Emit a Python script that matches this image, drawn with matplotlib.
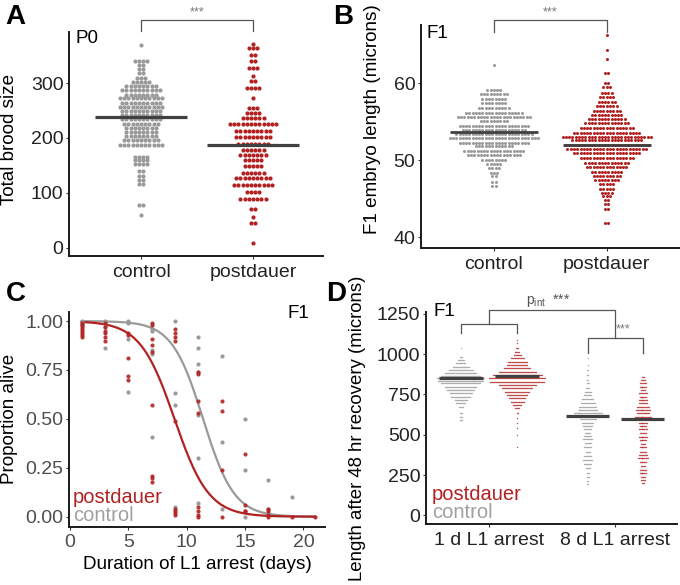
import numpy as np
import matplotlib.pyplot as plt
from matplotlib.lines import Line2D

plt.rcParams['font.family'] = ['Liberation Sans', 'DejaVu Sans']

GREY = '#9a9a9a'
RED = '#b22222'
MEANC = '#404040'
AXC = '#1a1a1a'

groups = ['control', 'postdauer']

# ---------------------------------------------------
# Data
# ---------------------------------------------------
# A: total brood size P0, dot rows -> (row value, dots in row)
a_ctrl_val = [370, 340, 333, 325, 318, 310, 302, 295, 287, 279, 272, 264, 257, 249, 242,
              234, 226, 219, 211, 203, 196, 188, 166, 159, 152, 139, 131, 124, 116, 78, 59]
a_ctrl_n = [1, 4, 2, 2, 2, 3, 5, 8, 10, 8, 11, 10, 11, 10, 10,
            10, 9, 8, 8, 8, 9, 11, 4, 4, 4, 2, 2, 2, 2, 2, 1]
a_pd_val = [372, 363, 351, 340, 327, 313, 304, 291, 272, 254, 245, 236, 225, 213, 201,
            189, 178, 169, 159, 149, 136, 127, 115, 101, 89, 70, 56, 45, 9]
a_pd_n = [1, 3, 2, 2, 3, 1, 2, 4, 1, 3, 4, 6, 12, 9, 9,
          8, 6, 7, 5, 5, 6, 9, 10, 4, 7, 2, 1, 2, 1]
a_mean = [238, 188]

# B: F1 embryo length
b_ctrl_val = [62.4, 59.2, 58.6, 58.0, 57.4, 56.8, 56.2, 55.6, 55.1, 54.5, 53.9, 53.4,
              52.9, 52.3, 51.8, 51.2, 50.7, 50.1, 49.5, 49.0, 48.4, 47.9, 47.2, 46.7]
b_ctrl_n = [1, 5, 9, 8, 8, 10, 18, 23, 9, 22, 20, 24,
            28, 22, 12, 19, 17, 8, 5, 4, 3, 2, 2, 2]
b_pd_val = [66.3, 64.4, 63.2, 61.3, 60.0, 59.5, 58.8, 58.2, 57.6, 57.1, 56.4, 55.9,
            55.4, 54.8, 54.2, 53.6, 53.1, 52.6, 52.0, 51.5, 50.9, 50.3, 49.7, 49.1,
            48.5, 47.9, 47.4, 46.9, 46.3, 45.8, 45.3, 44.8, 44.3, 43.7, 41.8]
b_pd_n = [1, 1, 1, 2, 2, 3, 4, 5, 6, 7, 9, 10,
          12, 14, 17, 21, 28, 22, 26, 25, 21, 17, 14, 13,
          10, 9, 8, 5, 5, 4, 3, 2, 2, 2, 2]
b_mean = [53.7, 52.0]

# C: proportion alive vs. days of L1 arrest
c_ctrl_day = [1, 1, 1, 3, 3, 3, 3, 5, 5, 5, 5, 7, 7, 7, 7, 7, 9, 9, 9, 9,
              11, 11, 11, 11, 11, 11, 11, 13, 13, 13, 15, 15, 15, 17, 17, 17, 19]
c_ctrl_prop = [1.0, 0.99, 0.98, 1.0, 0.99, 0.97, 0.86, 1.0, 0.99, 0.91, 0.64,
               0.96, 0.95, 0.85, 0.83, 0.41, 1.0, 0.63, 0.57, 0.05,
               0.92, 0.86, 0.78, 0.74, 0.52, 0.30, 0.07, 0.82, 0.38, 0.04,
               0.50, 0.24, 0.0, 0.19, 0.04, 0.02, 0.10]
c_pd_day = [1, 1, 1, 1, 1, 1, 1, 1, 3, 3, 3, 3, 3, 3, 5, 5, 5, 5, 5,
            7, 7, 7, 7, 7, 7, 7, 7, 7, 9, 9, 9, 9, 9, 9, 9, 9, 9,
            11, 11, 11, 11, 11, 11, 11, 11, 13, 13, 13, 13, 15, 15, 15, 15,
            17, 17, 17, 17, 19, 21]
c_pd_prop = [0.99, 0.98, 0.97, 0.96, 0.95, 0.94, 0.93, 0.92,
             0.99, 0.97, 0.95, 0.94, 0.92, 0.90,
             0.94, 0.93, 0.81, 0.72, 0.70,
             0.99, 0.98, 0.91, 0.88, 0.84, 0.57, 0.21, 0.20, 0.18,
             0.96, 0.94, 0.92, 0.90, 0.49, 0.04, 0.03, 0.02, 0.01,
             0.74, 0.73, 0.59, 0.53, 0.05, 0.03, 0.01, 0.0,
             0.59, 0.54, 0.24, 0.0, 0.32, 0.06, 0.03, 0.03,
             0.04, 0.03, 0.01, 0.0, 0.0, 0.0]
# fitted logistic curves: (day at 50 % alive, slope)
c_fit_ctrl = (11.4, 0.75)
c_fit_pd = (8.95, 0.68)

# D: length after 48 h recovery, rows -> (value, dots in row)
d1_ctrl_val = [1041, 985, 964, 944, 923, 902, 882, 867, 851, 834, 820, 799, 778, 758,
               737, 716, 696, 674, 633, 612, 592]
d1_ctrl_n = [1, 3, 7, 10, 17, 25, 33, 40, 48, 47, 40, 33, 28, 23, 20, 13, 10, 5, 3, 3, 3]
d1_pd_val = [1089, 1068, 1037, 1016, 995, 975, 954, 933, 913, 892, 871, 851, 830, 809,
             789, 768, 747, 727, 705, 685, 664, 633, 602, 571, 540, 499, 426]
d1_pd_n = [1, 1, 3, 5, 8, 14, 20, 21, 27, 38, 50, 57, 55, 38,
           31, 25, 21, 17, 14, 9, 5, 2, 1, 1, 1, 1, 1]
d8_ctrl_val = [975, 933, 902, 871, 840, 820, 789, 768, 747, 720, 696, 674, 654, 633, 617,
               596, 575, 555, 534, 513, 492, 472, 447, 422, 395, 368, 343, 319, 292, 265,
               240, 215, 194]
d8_ctrl_n = [1, 1, 2, 2, 2, 3, 4, 7, 8, 12, 15, 18, 20, 30, 38,
             17, 12, 10, 8, 6, 8, 10, 7, 8, 5, 8, 10, 8, 5, 3, 3, 2, 2]
d8_pd_val = [1006, 861, 840, 820, 799, 778, 758, 737, 716, 696, 674, 654, 633, 612, 596,
             575, 555, 534, 509, 488, 468, 443, 422, 395, 374, 354, 333, 306, 281, 261,
             240, 219, 199]
d8_pd_n = [1, 3, 5, 7, 8, 5, 9, 8, 10, 9, 13, 16, 13, 18, 16,
           10, 8, 10, 7, 10, 8, 5, 8, 7, 9, 12, 8, 5, 7, 8, 5, 5, 3]
d_mean_1d = [851, 862]
d_mean_8d = [617, 600]
d_facets = ['1 d L1 arrest', '8 d L1 arrest']


# ---------------------------------------------------
# helpers
# ---------------------------------------------------
def rows_to_xy(center, vals, counts, dx):
    xs, ys = [], []
    for v, n in zip(vals, counts):
        offs = (np.arange(n) - (n - 1) / 2) * dx
        xs.extend(center + offs)
        ys.extend([v] * n)
    return np.array(xs), np.array(ys)


def style(ax, tick_color='#222222', left=True):
    for s in ['top', 'right']:
        ax.spines[s].set_visible(False)
    ax.spines['bottom'].set_color(AXC)
    ax.spines['bottom'].set_linewidth(1.4)
    if left:
        ax.spines['left'].set_color(AXC)
        ax.spines['left'].set_linewidth(1.4)
    else:
        ax.spines['left'].set_visible(False)
    ax.tick_params(axis='both', colors='#333333', labelcolor=tick_color,
                   length=2.5, width=0.8, labelsize=14, pad=1.5)
    ax.tick_params(axis='x', pad=3)
    ax.set_facecolor('none')


def pos(x0, y0, x1, y1):
    W, H = 680.0, 585.0
    return [x0 / W, 1 - y1 / H, (x1 - x0) / W, (y1 - y0) / H]


fig = plt.figure(figsize=(6.8, 5.85), dpi=100)

# ---------------------------------------------------
# A
# ---------------------------------------------------
axA = fig.add_axes(pos(69, 32, 323, 256))
for i, (vals, ns, col) in enumerate([(a_ctrl_val, a_ctrl_n, GREY), (a_pd_val, a_pd_n, RED)]):
    x, y = rows_to_xy(i + 1, vals, ns, 0.0375)
    axA.scatter(x, y, s=9, color=col, linewidths=0, zorder=2)
    axA.plot([i + 1 - 0.41, i + 1 + 0.41], [a_mean[i]] * 2, color=MEANC, lw=2.3,
             solid_capstyle='butt', zorder=3)
axA.set_xlim(0.357, 2.625)
axA.set_ylim(-15, 393)
axA.set_yticks([0, 100, 200, 300])
axA.set_xticks([1, 2])
axA.set_xticklabels(groups)
style(axA)
axA.plot([1, 1, 2, 2], [395, 414, 414, 395], color='#555555', lw=0.9, clip_on=False)
axA.text(1.5, 418, '***', ha='center', va='bottom', fontsize=9, color='#777777')
axA.text(0.024, 1.01, 'P0', transform=axA.transAxes, ha='left', va='top', fontsize=13.5)
fig.text(10 / 680, 1 - 139 / 585, 'Total brood size', rotation=90, ha='center',
         va='center', fontsize=13.6)

# ---------------------------------------------------
# B
# ---------------------------------------------------
axB = fig.add_axes(pos(421, 25, 679, 248))
for i, (vals, ns, col) in enumerate([(b_ctrl_val, b_ctrl_n, GREY), (b_pd_val, b_pd_n, RED)]):
    x, y = rows_to_xy(i + 1, vals, ns, 0.029)
    axB.scatter(x, y, s=4.8, color=col, linewidths=0, zorder=2)
    axB.plot([i + 1 - 0.39, i + 1 + 0.39], [b_mean[i]] * 2, color=MEANC, lw=2.0,
             solid_capstyle='butt', zorder=3)
axB.set_xlim(0.354, 2.64)
axB.set_ylim(38.6, 67.6)
axB.set_yticks([40, 50, 60])
axB.set_xticks([1, 2])
axB.set_xticklabels(groups)
style(axB)
axB.plot([1, 1, 2, 2], [66.7, 68.2, 68.2, 66.7], color='#555555', lw=0.9, clip_on=False)
axB.text(1.5, 68.5, '***', ha='center', va='bottom', fontsize=9, color='#777777')
axB.text(0.023, 1.0, 'F1', transform=axB.transAxes, ha='left', va='top', fontsize=13.5)
fig.text(372 / 680, 1 - 119 / 585, 'F1 embryo length (microns)', rotation=90,
         ha='center', va='center', fontsize=13.6)

# ---------------------------------------------------
# C
# ---------------------------------------------------
axC = fig.add_axes(pos(69, 311.7, 325, 526.7))
xs = np.linspace(1, 21, 200)
for (x50, k), col in [(c_fit_ctrl, GREY), (c_fit_pd, RED)]:
    axC.plot(xs, 1 / (1 + np.exp(k * (xs - x50))), color=col, lw=1.6, zorder=2)
axC.scatter(c_ctrl_day, c_ctrl_prop, s=9, color=GREY, linewidths=0, zorder=3)
axC.scatter(c_pd_day, c_pd_prop, s=9, color=RED, linewidths=0, alpha=0.9, zorder=3)
axC.set_xlim(-0.09, 21.85)
axC.set_ylim(-0.051, 1.048)
axC.set_xticks([0, 5, 10, 15, 20])
axC.set_yticks([0, 0.25, 0.5, 0.75, 1.0])
axC.set_yticklabels(['0.00', '0.25', '0.50', '0.75', '1.00'])
style(axC, tick_color='#4d4d4d')
axC.set_xlabel('Duration of L1 arrest (days)', fontsize=13.6, labelpad=3)
axC.text(0.94, 1.03, 'F1', transform=axC.transAxes, ha='right', va='top', fontsize=13.5)
axC.text(0.26, 0.096, 'postdauer', color=RED, fontsize=14.5, ha='left', va='center')
axC.text(0.26, 0.004, 'control', color='#a0a0a0', fontsize=14.5, ha='left', va='center')
fig.text(10 / 680, 1 - 419 / 585, 'Proportion alive', rotation=90, ha='center',
         va='center', fontsize=13.6)

# ---------------------------------------------------
# D (two facets sharing y)
# ---------------------------------------------------
axD1 = fig.add_axes(pos(426, 311.7, 551.7, 524.3))
axD2 = fig.add_axes(pos(554, 311.7, 676.7, 524.3))
d_data = [
    [(d1_ctrl_val, d1_ctrl_n), (d1_pd_val, d1_pd_n)],
    [(d8_ctrl_val, d8_ctrl_n), (d8_pd_val, d8_pd_n)],
]
d_means = [d_mean_1d, d_mean_8d]
for j, ax in enumerate([axD1, axD2]):
    for i, (col, off) in enumerate([(GREY, -0.27), (RED, 0.27)]):
        vals, ns = d_data[j][i]
        x, y = rows_to_xy(1 + off, vals, ns, 0.0095)
        ax.scatter(x, y, s=1.1, color=col, linewidths=0, alpha=0.75, zorder=2)
        ax.plot([1 + off - 0.21, 1 + off + 0.21], [d_means[j][i]] * 2, color=MEANC,
                lw=2.3, solid_capstyle='butt', zorder=3)
    ax.set_xlim(0.4, 1.6)
    ax.set_ylim(-56, 1264)
    ax.set_xticks([1])
    ax.set_xticklabels([d_facets[j]])
    style(ax, left=(j == 0))
axD1.set_yticks([0, 250, 500, 750, 1000, 1250])
axD2.set_yticks([])
axD2.tick_params(axis='y', left=False)

# brackets
axD1.plot([0.73, 0.73, 1.27, 1.27], [1130, 1188, 1188, 1130], color='#555555', lw=0.9,
          clip_on=False)
axD2.plot([0.73, 0.73, 1.27, 1.27], [1010, 1103, 1103, 1010], color='#555555', lw=0.9,
          clip_on=False)
axD2.text(1.08, 1118, '***', ha='center', va='bottom', fontsize=9, color='#777777')


def to_fig(ax, x, y):
    p = ax.transData.transform((x, y))
    return fig.transFigure.inverted().transform(p)


p1 = to_fig(axD1, 1.0, 1188)
p2 = to_fig(axD2, 1.0, 1103)
ptop = to_fig(axD1, 1.0, 1275)[1]
fig.add_artist(Line2D([p1[0], p1[0], p2[0], p2[0]], [p1[1], ptop, ptop, p2[1]],
                      color='#555555', lw=0.9, transform=fig.transFigure))
fig.text(548 / 680, ptop + 0.002, r'p$_{\mathregular{int}}$  ***', ha='center', va='bottom',
         fontsize=10, color='#555555')

axD1.text(0.056, 1.04, 'F1', transform=axD1.transAxes, ha='left', va='top', fontsize=13.5)
axD1.text(0.457, 132, 'postdauer', color=RED, fontsize=14.5, ha='left', va='center')
axD1.text(0.457, 20, 'control', color='#a0a0a0', fontsize=14.5, ha='left', va='center')
fig.text(357 / 680, 1 - 428 / 585, 'Length after 48 hr recovery (microns)', rotation=90,
         ha='center', va='center', fontsize=13.4)

# panel letters
for lab, (x, y) in zip('ABCD', [(5, 4), (333, 4), (6, 281), (326, 281)]):
    fig.text(x / 680, 1 - y / 585, lab, fontsize=20, fontweight='bold', ha='left', va='top')

fig.savefig('out.png', dpi=100)
